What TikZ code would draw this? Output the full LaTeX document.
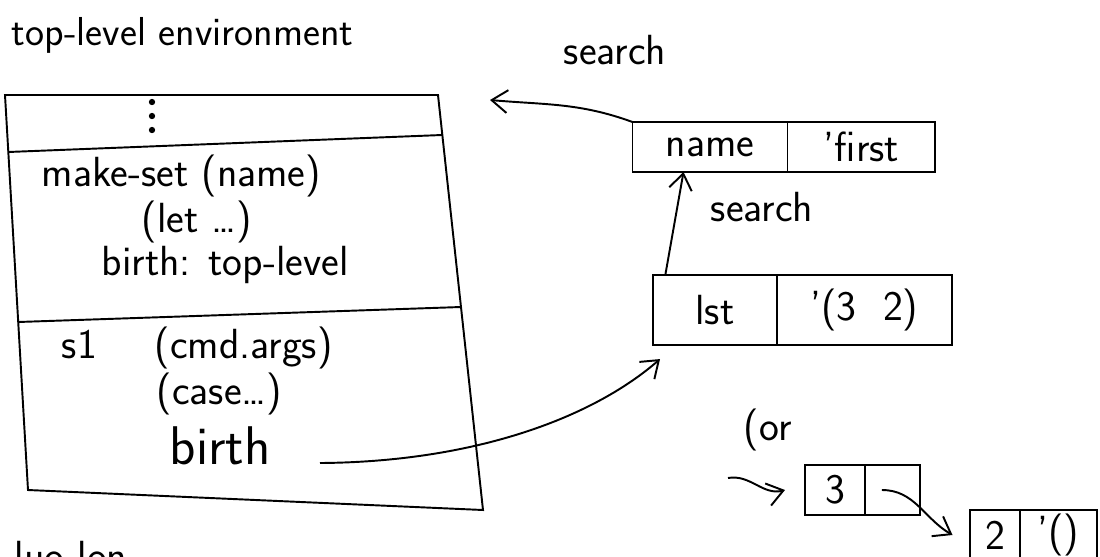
\documentclass[tikz,border=0pt]{standalone}
\usepackage{fontspec}
\usetikzlibrary{arrows.meta,
                positioning
            }

\begin{document}
\begin{tikzpicture}[x=0.02cm, y=-0.02cm, line width=1.1pt,
        font=\sffamily\fontsize{24}{26}\selectfont,
        cell/.style={draw, inner sep=0pt, outer sep=0pt},
        link/.style={-{Straight Barb[length=9pt, width=13pt]}}]
            \clip (0,0) rectangle (1100,556);

            \node[anchor=base west, font=\sffamily\fontsize{23}{25}\selectfont] (title) at (5,45) {top-level environment};

            % environment frame
            \coordinate (envNW) at (5,95);
            \coordinate (envNE) at (438,95);
            \coordinate (envSE) at (483,510);
            \coordinate (envSW) at (28,490);
            \draw (envNW) -- (envNE) -- (envSE) -- (envSW) -- cycle;
            \draw (8,152) -- (442,135);
            \draw (18,322) -- (461,307);
            \foreach \y in {102,116,130} \fill (152,\y) circle (1.8pt);

            \node[anchor=base west] (makeset) at (35,186) {make-set (name)};
            \node[anchor=base west] (letform) at (135,232) {(let \dots)};
            \node[anchor=base west] (birthtop) at (95,275) {birth: top-level};
            \node[anchor=base west] (sone) at (55,358) {s1};
            \node[anchor=base west] (cmdargs) at (148,358) {(cmd.args)};
            \node[anchor=base west] (caseform) at (150,404) {(case\dots)};
            \node[anchor=base west, font=\sffamily\fontsize{31}{33}\selectfont] (birth) at (163,464) {birth};
            \coordinate (birthend) at (320,463);
            \coordinate (envhit) at (490,100);

            % frames
            \node[cell, minimum width=3.1cm, minimum height=1cm] (namekey) at (710,147) {name};
            \node[cell, minimum width=2.96cm, minimum height=1cm, right=0pt of namekey] (nameval) {'first};
            \node[cell, minimum width=2.48cm, minimum height=1.4cm] (lstkey) at (715,310) {lst};
            \node[cell, minimum width=3.5cm, minimum height=1.4cm, right=0pt of lstkey] (lstval) {'(3\ \ 2)};
            \node (searchtop) at (615,50) {search};
            \node (searchmid) at (762,207) {search};

            % pairs
            \node[anchor=base west] (ornote) at (737,440) {(or};
            \coordinate (orstart) at (728,478);
            \node[cell, minimum width=1.2cm, minimum height=1cm] (threecar) at (835,490) {3};
            \node[cell, minimum width=1.1cm, minimum height=1cm, right=0pt of threecar] (threecdr) {};
            \node[cell, minimum width=1cm, minimum height=1cm] (twocar) at (995,535) {2};
            \node[cell, minimum width=1.54cm, minimum height=1cm, right=0pt of twocar] (twocdr) {'()};

            \draw[link] (namekey.north west) to[out=160, in=-5] (envhit);
            \draw[link] ([xshift=7pt]lstkey.north west) -- ([xshift=1.02cm]namekey.south west);
            \draw[link] (birthend) .. controls (470,462) and (590,420) .. ([xshift=4pt, yshift=-8pt]lstkey.south west);
            \draw[link] (orstart) to[out=10, in=195] ([xshift=-0.4cm]threecar.west);
            \draw[link] ([xshift=-6pt]threecdr.center) to[out=0, in=150] ([xshift=-0.35cm]twocar.west);

            \node[anchor=base west] (lastline) at (8,570) {luo lon};
        \end{tikzpicture}
\end{document}
